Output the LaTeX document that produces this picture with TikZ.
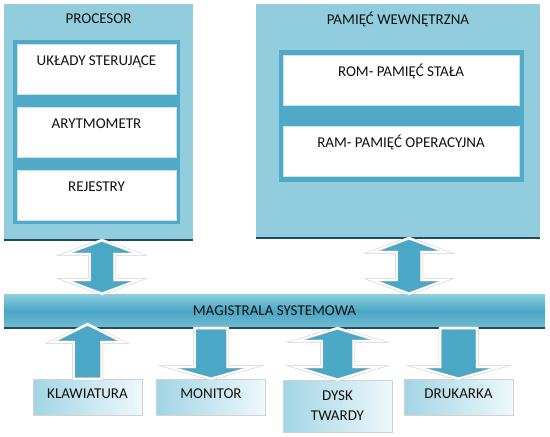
\documentclass[tikz,border=0pt]{standalone}
\usepackage{fontspec}
\setmainfont{Carlito}
\usetikzlibrary{calc}
\definecolor{panelblue}{HTML}{92CDDD}
\definecolor{innerblue}{HTML}{4FA9C7}
\definecolor{arrowblue}{HTML}{4AA7C6}
\definecolor{edgedark}{HTML}{1E4C5C}
\definecolor{devleft}{HTML}{A2D5E4}
\definecolor{devright}{HTML}{EEF8FB}
\definecolor{cellline}{HTML}{C4E5EF}
\definecolor{bustop}{HTML}{8ECFE0}
\definecolor{busmid}{HTML}{4AA6C4}
\definecolor{busbot}{HTML}{72BCD2}
\definecolor{ink}{HTML}{111111}
\tikzset{
panel/.style={fill=panelblue,inner sep=0pt,text=ink},
block/.style={fill=innerblue,inner sep=0pt},
cell/.style={fill=white,draw=cellline,line width=1pt,inner sep=0pt,minimum width=#1,text height=21pt,text depth=29pt,text=ink},
device/.style={left color=devleft,right color=devright,draw=gray!35,inner sep=0pt,minimum width=109pt,text=ink},
oneline/.style={text height=19pt,text depth=17pt},
bus/.style={top color=bustop,bottom color=busbot,middle color=busmid,inner sep=0pt,minimum width=541pt,minimum height=34pt,text=ink},
edgeline/.style={edgedark,line width=1.5pt},
blockarrow/.style={fill=arrowblue,draw=gray!40,double=white,double distance=2pt,line width=0.5pt},
sarrow/.style n args={3}{to path={let \p1=(\tikztostart),\p2=(\tikztotarget),\n1={ifthenelse(\y2>\y1,1,-1)} in
 ({\x1-#1},\y1) -- ({\x1-#1},{\y2-(\n1)*#3}) -- ({\x1-#2},{\y2-(\n1)*#3}) -- (\x2,\y2) -- ({\x1+#2},{\y2-(\n1)*#3}) -- ({\x1+#1},{\y2-(\n1)*#3}) -- ({\x1+#1},\y1) -- cycle}},
darrow/.style n args={3}{to path={let \p1=(\tikztostart),\p2=(\tikztotarget),\n1={ifthenelse(\y2>\y1,1,-1)} in
 (\x1,\y1) -- ({\x1+#2},{\y1+(\n1)*#3}) -- ({\x1+#1},{\y1+(\n1)*#3}) -- ({\x1+#1},{\y2-(\n1)*#3}) -- ({\x1+#2},{\y2-(\n1)*#3}) -- (\x2,\y2)
 -- ({\x1-#2},{\y2-(\n1)*#3}) -- ({\x1-#1},{\y2-(\n1)*#3}) -- ({\x1-#1},{\y1+(\n1)*#3}) -- ({\x1-#2},{\y1+(\n1)*#3}) -- cycle}}
}
\begin{document}
\begin{tikzpicture}[x=1pt,y=-1pt,font=\fontsize{15}{20}\selectfont]
\useasboundingbox[fill=white](0,0) rectangle (550,437);

\node (proc) [panel,minimum width=189pt,text height=19pt,text depth=217pt] at (98.5,122) {PROCESOR};
\node (procin) [block,minimum width=167pt,minimum height=184pt] at (96.5,132) {};
\node (uklady) [cell=159pt] at (96.5,69) {UKŁADY STERUJĄCE};
\node (arytm) [cell=159pt] at (96.5,132) {ARYTMOMETR};
\node (rejestry) [cell=159pt] at (96.5,195) {REJESTRY};
\draw[edgeline](proc.south west)--(proc.south east);

\node (pamiec) [panel,minimum width=284pt,text height=20pt,text depth=214pt] at (398,121) {PAMIĘĆ WEWNĘTRZNA};
\node (pamin) [block,minimum width=245pt,minimum height=132pt] at (401.5,116) {};
\node (rom) [cell=236pt] at (401,80) {ROM- PAMIĘĆ STAŁA};
\node (ram) [cell=236pt] at (401,151) {RAM- PAMIĘĆ OPERACYJNA};
\draw[edgeline](pamiec.south west)--(pamiec.south east);

\node (magistrala) [bus] at (274.5,311) {MAGISTRALA SYSTEMOWA};
\draw[edgeline](magistrala.south west)--(magistrala.south east);

\node (klaw) [device,oneline] at (87.5,397) {KLAWIATURA};
\node (monitor) [device,oneline] at (211,397) {MONITOR};
\node (dysk) [device,align=center,minimum height=52pt] at (337.5,406) {DYSK\\TWARDY};
\node (drukarka) [device,oneline] at (458.5,397) {DRUKARKA};

\draw[blockarrow,darrow={12.5pt}{37.5pt}{14pt}]([xshift=3.5pt]proc.south) to ([xshift=3.5pt]proc.south |- magistrala.north);
\draw[blockarrow,darrow={12.5pt}{37.5pt}{14pt}]([xshift=11pt]pamiec.south) to ([xshift=11pt]pamiec.south |- magistrala.north);
\draw[blockarrow,sarrow={14pt}{36pt}{18pt}](klaw.north) to ([yshift=4pt]klaw.north |- magistrala.south);
\draw[blockarrow,sarrow={16.5pt}{43pt}{12pt}](monitor.north |- magistrala.south) to (monitor.north);
\draw[blockarrow,darrow={16pt}{42.5pt}{13pt}](dysk.north |- magistrala.south) to (dysk.north);
\draw[blockarrow,sarrow={18.5pt}{42.5pt}{12pt}](drukarka.north |- magistrala.south) to (drukarka.north);
\end{tikzpicture}
\end{document}
